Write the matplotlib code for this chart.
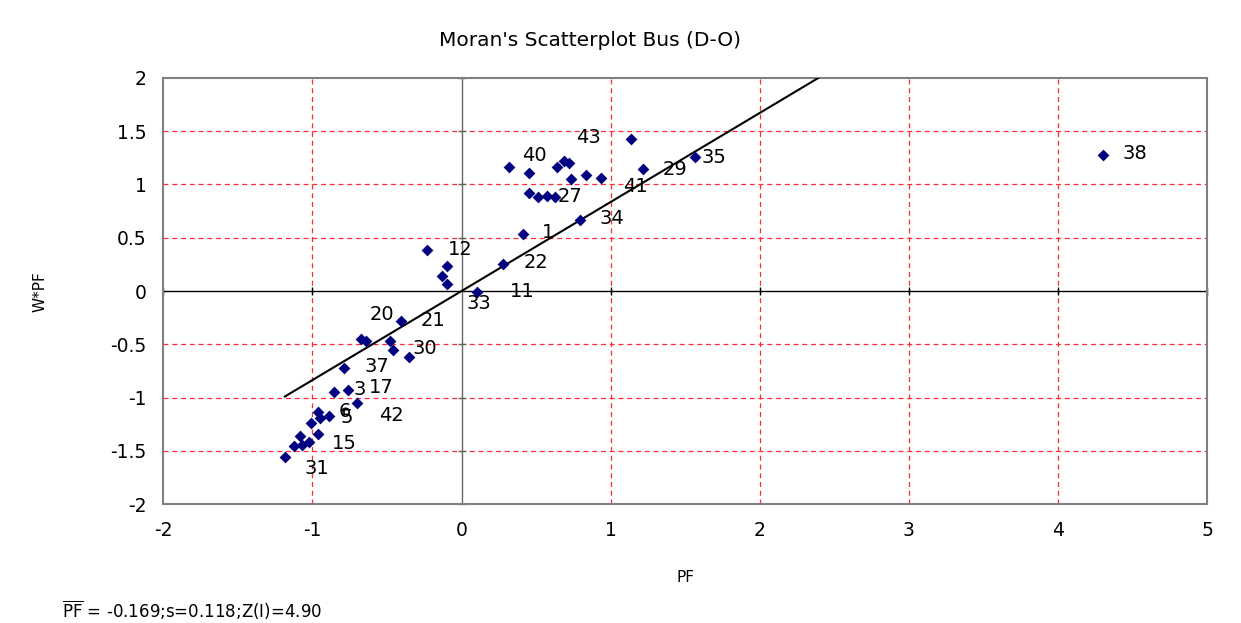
import matplotlib
matplotlib.use("Agg")
import matplotlib.pyplot as plt
import numpy as np

# Standardised PF values (x) and spatial lag W*PF (y)
pf = [1.135, 0.321, 0.451, 0.642, 0.687, 0.720, 0.734, 0.833, 0.936, 1.214,
      0.455, 0.512, 0.570, 0.628, 0.792, 0.413, -0.232, -0.099, -0.131, -0.099,
      0.278, 0.105, 1.566, 4.298,
      -0.407, -0.673, -0.638, -0.481, -0.463, -0.350, -0.786, -0.858, -0.759, -0.698,
      -0.963, -0.947, -0.887, -1.010, -0.963, -1.082, -1.127, -1.067, -1.020, -1.185]
wpf = [1.424, 1.160, 1.104, 1.160, 1.222, 1.203, 1.048, 1.085, 1.064, 1.141,
       0.918, 0.877, 0.893, 0.877, 0.669, 0.532, 0.383, 0.234, 0.141, 0.063,
       0.253, -0.011, 1.256, 1.275,
       -0.284, -0.449, -0.471, -0.468, -0.549, -0.623, -0.719, -0.946, -0.925, -1.049,
       -1.130, -1.195, -1.173, -1.235, -1.344, -1.356, -1.453, -1.444, -1.418, -1.558]

# Data labels and where they sit
label_text = ["43", "40", "27", "41", "29", "34", "1", "12", "22", "11", "33", "35", "38",
              "20", "21", "30", "37", "3", "17", "6", "5", "42", "15", "31"]
label_x = [0.849, 0.485, 0.724, 1.163, 1.432, 1.005, 0.583, -0.011, 0.496, 0.404, 0.119, 1.694, 4.512,
           -0.537, -0.195, -0.247, -0.570, -0.683, -0.537, -0.786, -0.772, -0.471, -0.786, -0.970]
label_y = [1.440, 1.266, 0.886, 0.980, 1.142, 0.676, 0.545, 0.390, 0.266, -0.008, -0.113, 1.255, 1.291,
           -0.216, -0.279, -0.542, -0.707, -0.925, -0.909, -1.127, -1.189, -1.164, -1.428, -1.661]

slope = 0.835  # Moran's I (regression slope)

x_ticks = [-2, -1, 0, 1, 2, 3, 4, 5]
x_tick_labels = ["-2", "-1", "0", "1", "2", "3", "4", "5"]
y_ticks = [-2, -1.5, -1, -0.5, 0, 0.5, 1, 1.5, 2]
y_tick_labels = ["-2", "-1.5", "-1", "-0.5", "0", "0.5", "1", "1.5", "2"]

plt.rcParams['font.family'] = ['DejaVu Sans']

fig = plt.figure(figsize=(12.41, 6.23), dpi=100)
ax = fig.add_axes([0.1316, 0.1905, 0.8412, 0.6848])

ax.set_xlim(-2, 5)
ax.set_ylim(-2, 2)

# grid
for xv in x_ticks[1:-1]:
    if xv != 0:
        ax.axvline(xv, color='#ff2a3a', lw=0.9, ls=(0, (4, 3)), zorder=1)
for yv in y_ticks[1:-1]:
    if yv != 0:
        ax.axhline(yv, color='#ff2a3a', lw=0.9, ls=(0, (4, 3)), zorder=1)

# zero axes
ax.axhline(0, color='black', lw=1.0, zorder=2)
ax.axvline(0, color='#666666', lw=1.0, zorder=2)
ax.plot([v for v in x_ticks if v != 0], [0] * (len(x_ticks) - 1), ls='none',
        marker='|', ms=6, color='black', mew=1.0, zorder=2, clip_on=False)
ax.plot([0] * (len(y_ticks) - 1), [v for v in y_ticks if v != 0], ls='none',
        marker='_', ms=6, color='#666666', mew=1.0, zorder=2, clip_on=False)

# regression line
xl = np.array([min(pf), max(pf)])
ax.plot(xl, slope * xl, color='black', lw=1.5, zorder=3)

# points
ax.scatter(pf, wpf, marker='D', s=36, color='#000080', zorder=4, linewidths=0)

for t, lx, ly in zip(label_text, label_x, label_y):
    ax.text(lx, ly, t, ha='center', va='center', fontsize=14, color='black', zorder=5)

ax.set_xticks(x_ticks)
ax.set_xticklabels(x_tick_labels)
ax.set_yticks(y_ticks)
ax.set_yticklabels(y_tick_labels)
ax.tick_params(length=0, labelsize=13.5)
ax.tick_params(axis='x', pad=12)
ax.tick_params(axis='y', pad=12)
for s in ax.spines.values():
    s.set_color('#808080')
    s.set_linewidth(1.5)

fig.text(590 / 1241, 1 - 40 / 623, "Moran's Scatterplot Bus (D-O)", ha='center', va='center', fontsize=14.5)
fig.text(40 / 1241, 1 - 292 / 623, "W*PF", ha='center', va='center', rotation=90, fontsize=11)
fig.text(685 / 1241, 1 - 578 / 623, "PF", ha='center', va='center', fontsize=11)
fig.text(62 / 1241, 1 - 610 / 623, r"$\overline{\mathrm{PF}}$ = -0.169;s=0.118;Z(I)=4.90",
         ha='left', va='center', fontsize=12)

fig.savefig("out.png", dpi=100, facecolor='white')
